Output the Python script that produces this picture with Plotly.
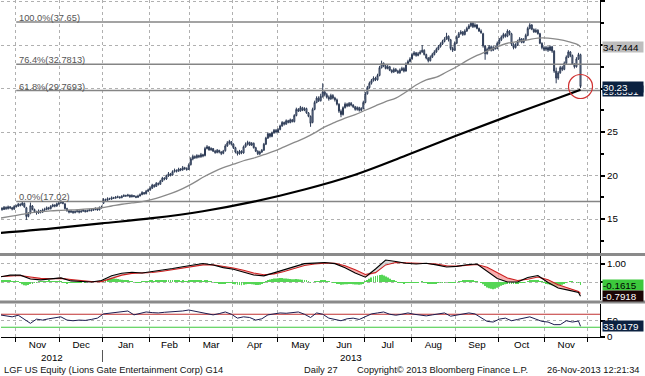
import numpy as np
import pandas as pd
import plotly.graph_objects as go

W, H = 645, 376
FONT = "Liberation Sans, Arial, sans-serif"

# ---------------- data ----------------
start_date = "2012-10-22"

open_px = [
 16.30, 16.25, 16.10, 16.35, 16.20, 16.40, 16.30, 16.15,
 16.45, 16.50, 16.70, 16.60, 16.80, 16.30, 15.30, 15.70, 16.50, 16.10, 15.85, 15.70, 15.95, 15.80, 16.05, 16.10, 16.30, 16.20, 16.45, 16.60, 16.50, 16.75,
 16.85, 16.95, 16.75, 16.20, 15.95, 15.80, 15.90, 15.75, 15.85, 15.95, 15.80, 15.90, 16.00, 15.85, 15.95, 16.05, 16.00, 16.10, 16.20, 16.05, 16.30,
 16.80, 17.25, 17.15, 17.35, 17.30, 17.45, 17.40, 17.50, 17.55, 17.45, 17.60, 17.70, 17.65, 17.75, 17.55, 17.70, 17.60, 17.50, 17.65, 17.80, 18.05, 17.90, 18.20,
 18.35, 18.55, 18.90, 18.75, 19.10, 19.00, 19.35, 19.70, 19.60, 19.95, 20.20, 20.05, 20.45, 20.60, 20.50, 20.75, 20.65, 20.90, 20.80, 20.70,
 21.25, 21.90, 22.20, 22.05, 22.30, 22.15, 22.40, 22.30, 23.10, 23.30, 22.95, 23.10, 22.80, 22.65, 22.90, 22.70, 22.55, 22.85, 23.40, 23.75, 23.90,
 23.60, 23.20, 22.70, 22.50, 22.80, 22.60, 23.30, 23.60, 23.80, 23.50, 23.70, 23.20, 22.80, 22.50, 22.70, 22.90, 23.60, 24.30, 24.80, 24.50, 24.90, 25.20,
 25.00, 25.30, 25.70, 26.10, 25.90, 26.30, 26.10, 26.40, 26.20, 26.90, 27.60, 27.40, 27.80, 27.50, 27.70, 27.20, 26.80, 26.10, 27.60, 28.40, 28.90, 28.60, 29.10,
 29.60, 29.30, 29.00, 28.80, 29.20, 28.90, 28.70, 28.20, 27.40, 27.00, 27.80, 28.20, 28.00, 28.30, 28.10, 27.90, 27.60, 27.80, 27.50, 27.70,
 28.40, 29.40, 30.10, 30.60, 30.90, 31.20, 31.00, 31.50, 32.40, 32.90, 32.60, 32.30, 32.50, 32.10, 31.90, 32.20, 32.00, 31.80, 32.10, 32.30, 32.00, 32.80, 33.10,
 33.40, 33.90, 34.10, 33.80, 34.00, 34.20, 34.40, 33.90, 33.50, 33.20, 33.60, 33.90, 34.20, 34.50, 34.80, 35.10, 35.40, 35.70, 36.00, 35.60, 34.60, 34.40,
 35.20, 35.90, 36.30, 36.50, 36.20, 36.60, 36.90, 37.20, 37.50, 37.10, 37.30, 36.90, 36.60, 36.30, 34.90, 34.00, 34.50, 34.80, 34.40, 34.70, 34.60,
 35.20, 35.60, 35.90, 36.20, 36.00, 36.60, 36.30, 35.10, 34.70, 35.00, 35.40, 35.70, 35.30, 35.60, 36.10, 36.90, 37.30, 36.80, 36.50, 36.70, 36.30, 35.20, 34.70,
 34.50, 34.70, 34.40, 34.80, 34.30, 32.00, 31.20, 31.80, 32.40, 32.20, 32.90, 33.60, 34.20, 33.80, 32.80, 32.50, 33.40, 33.90,
]
high_px = [
 16.45, 16.35, 16.50, 16.45, 16.55, 16.50, 16.40, 16.60,
 16.65, 16.85, 16.80, 17.00, 16.90, 16.40, 15.80, 16.90, 16.60, 16.20, 15.95, 16.10, 16.05, 16.20, 16.30, 16.45, 16.40, 16.60, 16.75, 16.70, 16.90, 17.05,
 17.20, 17.05, 16.80, 16.30, 16.05, 16.05, 15.95, 16.00, 16.10, 16.00, 16.05, 16.15, 16.05, 16.10, 16.20, 16.15, 16.25, 16.35, 16.25, 16.45, 16.55,
 17.40, 17.35, 17.50, 17.45, 17.60, 17.55, 17.65, 17.70, 17.60, 17.75, 17.85, 17.80, 17.90, 17.80, 17.85, 17.75, 17.70, 17.80, 17.95, 18.20, 18.10, 18.35, 18.50,
 18.75, 19.05, 19.00, 19.25, 19.20, 19.50, 19.85, 19.80, 20.10, 20.40, 20.30, 20.60, 20.80, 20.70, 20.90, 20.85, 21.10, 21.00, 20.95, 21.40,
 22.10, 22.40, 22.30, 22.45, 22.40, 22.60, 22.50, 23.30, 23.50, 23.35, 23.25, 23.15, 22.95, 23.05, 22.95, 22.80, 22.95, 23.60, 23.95, 24.10, 23.95,
 23.70, 23.30, 22.85, 22.95, 22.90, 23.45, 23.80, 24.00, 23.90, 23.85, 23.80, 23.30, 22.90, 22.85, 23.05, 23.75, 24.45, 24.95, 24.90, 25.05, 25.35, 25.35,
 25.45, 25.85, 26.25, 26.20, 26.45, 26.40, 26.55, 26.50, 27.05, 27.80, 27.75, 28.00, 27.90, 27.85, 27.80, 27.30, 26.90, 27.80, 28.60, 29.10, 29.10, 29.40, 30.60,
 29.80, 29.50, 29.20, 29.40, 29.35, 29.05, 28.85, 28.30, 27.60, 27.95, 28.40, 28.35, 28.45, 28.45, 28.20, 28.00, 27.95, 27.90, 27.85, 28.60,
 29.60, 30.30, 30.80, 31.10, 31.40, 31.35, 31.70, 32.60, 33.20, 33.00, 32.75, 32.70, 32.60, 32.20, 32.40, 32.35, 32.15, 32.30, 32.50, 32.45, 33.00, 33.30, 33.60,
 34.10, 34.30, 34.20, 34.20, 34.40, 35.00, 34.50, 34.00, 33.60, 33.80, 34.10, 34.40, 34.70, 35.00, 35.30, 35.60, 35.90, 36.40, 36.10, 35.70, 34.80, 35.40,
 36.10, 36.50, 36.70, 36.60, 36.80, 37.10, 37.40, 37.65, 37.60, 37.50, 37.40, 37.00, 36.80, 36.40, 35.00, 34.70, 35.00, 34.95, 34.90, 34.90, 35.40,
 35.80, 36.10, 36.40, 36.35, 36.80, 36.70, 36.40, 35.20, 35.20, 35.60, 35.90, 35.80, 35.80, 36.30, 37.10, 37.50, 37.40, 36.90, 36.90, 36.80, 36.40, 35.30, 34.90,
 34.90, 34.85, 34.95, 34.90, 34.40, 32.40, 32.00, 32.60, 32.60, 33.10, 33.80, 34.40, 34.30, 33.90, 32.90, 33.60, 34.10, 34.00,
]
low_px = [
 16.10, 15.95, 16.05, 16.05, 16.10, 16.15, 16.00, 16.05,
 16.30, 16.40, 16.45, 16.55, 16.30, 14.90, 15.20, 15.55, 16.00, 15.70, 15.50, 15.60, 15.65, 15.70, 15.90, 16.00, 16.05, 16.10, 16.35, 16.35, 16.40, 16.60,
 16.75, 16.70, 16.10, 15.85, 15.65, 15.70, 15.60, 15.65, 15.75, 15.65, 15.75, 15.85, 15.75, 15.80, 15.90, 15.85, 15.95, 16.00, 15.95, 16.00, 16.20,
 16.75, 17.05, 17.10, 17.20, 17.20, 17.30, 17.35, 17.40, 17.35, 17.40, 17.55, 17.55, 17.60, 17.45, 17.50, 17.50, 17.40, 17.45, 17.60, 17.75, 17.80, 17.85, 18.10,
 18.25, 18.45, 18.60, 18.70, 18.85, 18.95, 19.25, 19.45, 19.50, 19.85, 19.90, 20.00, 20.35, 20.35, 20.45, 20.50, 20.55, 20.65, 20.55, 20.65,
 21.15, 21.75, 21.90, 21.95, 22.00, 22.05, 22.10, 22.20, 23.00, 22.85, 22.85, 22.70, 22.50, 22.55, 22.55, 22.35, 22.45, 22.75, 23.30, 23.55, 23.45,
 23.05, 22.55, 22.30, 22.40, 22.45, 22.50, 23.20, 23.45, 23.40, 23.40, 23.10, 22.70, 22.35, 22.35, 22.60, 22.85, 23.50, 24.20, 24.35, 24.40, 24.80, 24.85,
 24.90, 25.20, 25.60, 25.75, 25.85, 26.00, 26.00, 26.10, 26.10, 26.80, 27.30, 27.35, 27.40, 27.40, 27.10, 26.70, 25.60, 26.00, 27.50, 28.30, 28.45, 28.50, 28.95,
 29.10, 28.85, 28.60, 28.70, 28.75, 28.50, 28.05, 27.20, 26.70, 26.90, 27.70, 27.85, 27.90, 27.95, 27.75, 27.45, 27.45, 27.35, 27.35, 27.60,
 28.30, 29.30, 30.00, 30.45, 30.80, 30.85, 30.90, 31.40, 32.30, 32.45, 32.20, 32.20, 32.00, 31.75, 31.80, 31.90, 31.70, 31.70, 32.00, 31.85, 31.95, 32.70, 33.00,
 33.30, 33.75, 33.65, 33.70, 33.90, 34.10, 33.80, 33.35, 33.00, 33.10, 33.50, 33.80, 34.10, 34.40, 34.70, 35.00, 35.30, 35.60, 35.40, 34.40, 34.20, 34.35,
 35.10, 35.80, 36.20, 36.05, 36.10, 36.50, 36.80, 37.05, 36.95, 37.00, 36.80, 36.50, 36.30, 34.70, 33.30, 33.90, 34.40, 34.25, 34.30, 34.45, 34.50,
 35.05, 35.45, 35.75, 35.85, 35.90, 36.10, 34.90, 34.50, 34.60, 34.90, 35.30, 35.20, 35.20, 35.50, 36.00, 36.80, 36.70, 36.40, 36.40, 36.20, 35.10, 34.50, 34.30,
 34.30, 34.20, 34.30, 34.10, 31.80, 30.60, 31.00, 31.70, 32.00, 32.10, 32.80, 33.50, 33.60, 32.70, 32.30, 32.40, 33.30, 30.05,
]
close_px = [
 16.25, 16.10, 16.35, 16.20, 16.40, 16.30, 16.15, 16.45,
 16.50, 16.70, 16.60, 16.85, 16.40, 15.30, 15.60, 16.55, 16.10, 15.85, 15.70, 15.95, 15.80, 16.05, 16.10, 16.30, 16.20, 16.45, 16.60, 16.50, 16.75, 16.85,
 16.95, 16.80, 16.20, 15.95, 15.80, 15.90, 15.75, 15.85, 15.95, 15.80, 15.90, 16.00, 15.85, 15.95, 16.05, 16.00, 16.10, 16.20, 16.05, 16.30, 16.40,
 17.25, 17.15, 17.35, 17.30, 17.45, 17.40, 17.50, 17.55, 17.45, 17.60, 17.70, 17.65, 17.75, 17.55, 17.70, 17.60, 17.50, 17.65, 17.80, 18.05, 17.90, 18.20, 18.35,
 18.55, 18.90, 18.75, 19.10, 19.00, 19.35, 19.70, 19.60, 19.95, 20.20, 20.05, 20.45, 20.60, 20.50, 20.75, 20.65, 20.90, 20.80, 20.70, 21.20,
 21.90, 22.20, 22.05, 22.30, 22.15, 22.40, 22.25, 23.10, 23.30, 22.95, 23.10, 22.80, 22.65, 22.90, 22.70, 22.55, 22.80, 23.40, 23.75, 23.90, 23.60,
 23.20, 22.70, 22.50, 22.80, 22.60, 23.30, 23.60, 23.80, 23.50, 23.70, 23.20, 22.80, 22.50, 22.70, 22.90, 23.60, 24.30, 24.80, 24.50, 24.90, 25.20, 25.00,
 25.30, 25.70, 26.10, 25.90, 26.30, 26.10, 26.40, 26.20, 26.90, 27.60, 27.40, 27.80, 27.50, 27.70, 27.20, 26.80, 26.00, 27.60, 28.40, 28.90, 28.60, 29.10, 29.60,
 29.30, 29.00, 28.80, 29.20, 28.90, 28.70, 28.20, 27.40, 27.00, 27.80, 28.20, 28.00, 28.30, 28.10, 27.90, 27.60, 27.80, 27.50, 27.70, 28.40,
 29.40, 30.10, 30.60, 30.90, 31.20, 31.00, 31.50, 32.40, 32.90, 32.60, 32.30, 32.50, 32.10, 31.90, 32.20, 32.00, 31.80, 32.10, 32.30, 32.00, 32.80, 33.10, 33.40,
 33.90, 34.10, 33.80, 34.00, 34.20, 34.40, 33.90, 33.50, 33.20, 33.60, 33.90, 34.20, 34.50, 34.80, 35.10, 35.40, 35.70, 36.00, 35.60, 34.60, 34.40, 35.20,
 35.90, 36.30, 36.50, 36.20, 36.60, 36.90, 37.20, 37.50, 37.10, 37.30, 36.90, 36.60, 36.40, 34.90, 34.00, 34.50, 34.80, 34.40, 34.70, 34.60, 35.20,
 35.60, 35.90, 36.20, 36.00, 36.60, 36.30, 35.10, 34.70, 35.00, 35.40, 35.70, 35.30, 35.60, 36.10, 36.90, 37.30, 36.80, 36.50, 36.70, 36.30, 35.20, 34.70, 34.50,
 34.70, 34.40, 34.80, 34.30, 32.00, 31.20, 31.80, 32.40, 32.20, 32.90, 33.60, 34.20, 33.80, 32.80, 32.50, 33.40, 33.90, 30.23,
]

# 50-day moving average, read every 5 trading days (last = final value)
ma50_step = 5
ma50 = [15.1, 15.3, 15.5, 15.7, 15.85, 15.95, 16.0, 16.05, 16.1, 16.2,
        16.3, 16.5, 16.7, 16.85, 17.0, 17.25, 17.6, 18.0, 18.5, 19.1,
        19.8, 20.4, 20.9, 21.3, 21.7, 22.0, 22.4, 22.8, 23.3, 23.8,
        24.3, 24.9, 25.6, 26.1, 26.6, 27.0, 27.5, 28.0, 28.5, 28.9,
        29.6, 30.4, 31.0, 31.3, 31.9, 32.5, 33.2, 33.8, 34.3, 34.8,
        35.2, 35.4, 35.6, 35.8, 35.8, 35.65, 35.4, 35.0, 34.7444]
# 200-day moving average, read every 25 trading days (last = final value)
ma200_step = 25
ma200 = [13.4, 13.9, 14.5, 15.1, 15.9, 17.0, 18.4, 20.1, 22.3, 24.6, 26.8, 28.9, 29.8551]

# Fibonacci retracement levels
fib_start = "2012-11-01"
fib_levels = [37.65, 32.7813, 29.7693, 17.02]
fib_labels = ["100.0%(37.65)", "76.4%(32.7813)", "61.8%(29.7693)", "0.0%(17.02)"]

# MACD / signal, read every 5 trading days; histogram daily
macd_step = 5
macd = [0.28, 0.38, 0.38, 0.17, 0.12, 0.19, 0.23, 0.06, 0.01, 0.0,
        0.08, 0.35, 0.49, 0.54, 0.5, 0.57, 0.66, 0.75, 0.85, 0.94,
        1.03, 0.94, 0.8, 0.71, 0.56, 0.39, 0.34, 0.51, 0.69, 0.88,
        1.02, 1.05, 1.08, 1.02, 0.79, 0.5, 0.27, 0.72, 1.22, 1.14,
        1.04, 1.0, 1.04, 0.95, 0.83, 0.87, 0.96, 1.0, 0.6, 0.2,
        0.0, 0.0, 0.25, 0.36, -0.03, -0.33, -0.45, -0.58, -0.7918]
signal = [0.30, 0.33, 0.36, 0.28, 0.20, 0.18, 0.20, 0.14, 0.07, 0.02,
          0.02, 0.20, 0.38, 0.48, 0.50, 0.53, 0.60, 0.68, 0.78, 0.87,
          0.95, 0.96, 0.88, 0.78, 0.65, 0.50, 0.40, 0.45, 0.58, 0.76,
          0.92, 1.00, 1.05, 1.04, 0.90, 0.68, 0.42, 0.52, 0.95, 1.08,
          1.07, 1.03, 1.03, 0.99, 0.90, 0.88, 0.92, 0.97, 0.82, 0.50,
          0.22, 0.08, 0.15, 0.28, 0.12, -0.15, -0.35, -0.52, -0.6303]
macd_hist = [
 0.06, 0.08, 0.07, 0.09, 0.08, 0.06, 0.05, 0.04,
 0.03, 0.02, -0.05, -0.12, -0.18, -0.20, -0.16, -0.10, -0.06, -0.03, -0.02, 0.01, 0.03, 0.04, 0.05, 0.04, 0.06, 0.05, 0.04, 0.03, 0.05, 0.04,
 0.03, -0.02, -0.05, -0.06, -0.05, -0.04, -0.03, -0.02, -0.02, -0.01, -0.01, 0.00, -0.01, 0.00, 0.01, 0.00, 0.01, 0.01, 0.02, 0.04, 0.08,
 0.13, 0.16, 0.18, 0.19, 0.20, 0.19, 0.18, 0.16, 0.14, 0.12, 0.10, 0.08, 0.06, 0.03, 0.01, 0.00, -0.02, -0.02, -0.01, 0.01, 0.02, 0.04, 0.05,
 0.06, 0.06, 0.05, 0.06, 0.07, 0.07, 0.06, 0.06, 0.07, 0.07, 0.06, 0.07, 0.07, 0.06, 0.06, 0.05, 0.06, 0.05, 0.04, 0.06,
 0.08, 0.08, 0.07, 0.07, 0.06, 0.06, 0.05, 0.07, 0.08, 0.05, 0.03, 0.00, -0.03, -0.04, -0.06, -0.08, -0.08, -0.06, -0.04, -0.03, -0.05,
 -0.08, -0.12, -0.15, -0.17, -0.18, -0.15, -0.12, -0.10, -0.11, -0.12, -0.14, -0.16, -0.17, -0.15, -0.10, -0.03, 0.05, 0.11, 0.14, 0.17, 0.20, 0.20,
 0.21, 0.22, 0.22, 0.20, 0.19, 0.18, 0.17, 0.15, 0.15, 0.17, 0.15, 0.14, 0.12, 0.10, 0.07, 0.03, -0.02, 0.00, 0.03, 0.05, 0.05, 0.06, 0.08,
 0.06, 0.04, 0.01, 0.00, -0.02, -0.04, -0.07, -0.11, -0.15, -0.14, -0.12, -0.12, -0.11, -0.11, -0.12, -0.14, -0.14, -0.15, -0.14, -0.08,
 0.02, 0.10, 0.18, 0.25, 0.30, 0.33, 0.36, 0.39, 0.40, 0.36, 0.30, 0.25, 0.18, 0.11, 0.06, 0.02, -0.02, -0.04, -0.05, -0.06, -0.04, -0.03, -0.02,
 -0.02, -0.01, -0.02, -0.01, 0.00, 0.01, -0.01, -0.04, -0.07, -0.08, -0.08, -0.07, -0.06, -0.05, -0.04, -0.03, -0.02, 0.00, -0.01, -0.04, -0.05, -0.03,
 0.00, 0.03, 0.05, 0.06, 0.07, 0.08, 0.08, 0.08, 0.06, 0.05, 0.03, 0.00, -0.04, -0.12, -0.22, -0.30, -0.35, -0.38, -0.40, -0.37, -0.32,
 -0.26, -0.21, -0.16, -0.13, -0.10, -0.08, -0.09, -0.10, -0.09, -0.07, -0.05, -0.04, -0.02, 0.00, 0.04, 0.08, 0.10, 0.10, 0.09, 0.08, 0.05, 0.01, -0.03,
 -0.08, -0.12, -0.15, -0.18, -0.22, -0.25, -0.24, -0.20, -0.15, -0.10, -0.05, 0.00, 0.03, 0.02, 0.00, -0.02, -0.04, -0.1615,
]

# RSI, read every 3 trading days (last = final value)
rsi_step = 3
rsi = [68, 64, 62, 67, 55, 42, 55, 52, 56, 60,
       62, 52, 50, 52, 51, 54, 58, 71, 73, 74,
       76, 80, 68, 72, 77, 75, 74, 76, 77, 78,
       80, 83, 79, 76, 72, 68, 72, 77, 70, 58,
       62, 60, 52, 56, 68, 72, 74, 73, 76, 77,
       70, 60, 74, 70, 58, 55, 50, 56, 58, 54,
       62, 71, 74, 77, 70, 67, 70, 74, 70, 68,
       65, 68, 70, 74, 64, 68, 72, 74, 71, 60,
       48, 46, 55, 58, 50, 54, 58, 62, 55, 48,
       46, 38, 38, 50, 46, 49, 33.0179]
rsi_levels = [70, 30]

month_abbr = ["Jan", "Feb", "Mar", "Apr", "May", "Jun", "Jul", "Aug", "Sep", "Oct", "Nov", "Dec"]
footer_left = "LGF US Equity (Lions Gate Entertainment Corp) G14"
footer_mid = "Daily 27"
footer_copy = "Copyright\u00a9 2013 Bloomberg Finance L.P."
footer_time = "26-Nov-2013 12:21:34"

# ---------------- derived positions ----------------
n = min(len(open_px), len(high_px), len(low_px), len(close_px))
days = np.arange(n)
dates = pd.bdate_range(start_date, periods=n)
hist_n = min(len(macd_hist), n)


def sample_pos(step, count):
    return [min(step * i, n - 1) for i in range(count - 1)] + [n - 1]


ma50_x = sample_pos(ma50_step, len(ma50))
ma200_x = sample_pos(ma200_step, len(ma200))
macd_x = sample_pos(macd_step, len(macd))
rsi_x = sample_pos(rsi_step, len(rsi))

x_lo, x_hi = 0.5, n - 1 + 9.6

cal = pd.bdate_range(start_date, "2014-01-31")
per = cal.to_period("M")
bnd = [i - 0.5 for i in range(1, len(cal)) if per[i] != per[i - 1]]
bnd_in = [b for b in bnd if x_lo < b < x_hi]
mids, mlab = [], []
for b0, b1 in zip(bnd[:-1], bnd[1:]):
    if b0 >= x_lo and b1 <= x_hi:
        mids.append((b0 + b1) / 2)
        mlab.append(month_abbr[cal[int(b0 + 0.5)].month - 1])
jan_b = [b for b in bnd_in if cal[int(b + 0.5)].month == 1][0]
fib_x0 = int(np.searchsorted(dates, pd.Timestamp(fib_start)))


def px(x):
    return x / W


def py(y):
    return 1 - y / H


xd = [px(1), px(600)]
dom_main = [py(253), 1.0]
dom_macd = [py(300), py(256)]
dom_rsi = [py(337), py(304)]

GRID = dict(gridcolor="#b0b0b0", griddash="dot", gridwidth=1)

fig = go.Figure()

# ---- MACD panel ----
fig.add_trace(go.Bar(x=days[:hist_n], y=macd_hist[:hist_n], xaxis="x2", yaxis="y2",
                     marker=dict(color="#55d655", line=dict(width=0)), width=0.45))
lo = np.minimum(macd, signal)
hi = np.maximum(macd, signal)
fig.add_trace(go.Scatter(x=macd_x, y=signal, xaxis="x2", yaxis="y2", mode="lines",
                         line=dict(width=0), hoverinfo="skip"))
fig.add_trace(go.Scatter(x=macd_x, y=lo, xaxis="x2", yaxis="y2", mode="lines",
                         line=dict(width=0), fill="tonexty", fillcolor="rgba(245,150,150,0.75)", hoverinfo="skip"))
fig.add_trace(go.Scatter(x=macd_x, y=signal, xaxis="x2", yaxis="y2", mode="lines",
                         line=dict(width=0), hoverinfo="skip"))
fig.add_trace(go.Scatter(x=macd_x, y=hi, xaxis="x2", yaxis="y2", mode="lines",
                         line=dict(width=0), fill="tonexty", fillcolor="rgba(190,190,190,0.6)", hoverinfo="skip"))
fig.add_trace(go.Scatter(x=macd_x, y=signal, xaxis="x2", yaxis="y2", mode="lines",
                         line=dict(color="#cc2020", width=1.1)))
fig.add_trace(go.Scatter(x=macd_x, y=macd, xaxis="x2", yaxis="y2", mode="lines",
                         line=dict(color="#000000", width=1.1)))

# ---- RSI panel ----
for lvl, col in zip(rsi_levels, ["#c03030", "#3cc83c"]):
    fig.add_trace(go.Scatter(x=[x_lo, x_hi], y=[lvl, lvl], xaxis="x3", yaxis="y3", mode="lines",
                             line=dict(color=col, width=1.2)))
fig.add_trace(go.Scatter(x=rsi_x, y=rsi, xaxis="x3", yaxis="y3", mode="lines",
                         line=dict(color="#1c1c50", width=1)))

# ---- main panel ----
for lvl in fib_levels:
    fig.add_trace(go.Scatter(x=[fib_x0, x_hi], y=[lvl, lvl], xaxis="x", yaxis="y", mode="lines",
                             line=dict(color="#858585", width=1.6)))
fig.add_trace(go.Scatter(x=ma200_x, y=ma200, mode="lines", line=dict(color="#000000", width=2.2, shape="spline")))
fig.add_trace(go.Scatter(x=ma50_x, y=ma50, mode="lines", line=dict(color="#8a8a8a", width=1.3, shape="spline")))
fig.add_trace(go.Candlestick(x=days, open=open_px[:n], high=high_px[:n], low=low_px[:n], close=close_px[:n],
                             whiskerwidth=0,
                             increasing=dict(line=dict(color="#2c3a55", width=1), fillcolor="#a3b0c4"),
                             decreasing=dict(line=dict(color="#2c3a55", width=1), fillcolor="#a3b0c4")))

tickfont = dict(family=FONT, size=9.8, color="#000000")

fig.update_layout(
    width=W, height=H, margin=dict(l=0, r=0, t=0, b=0, autoexpand=False),
    paper_bgcolor="white", plot_bgcolor="white", showlegend=False,
    font=dict(family=FONT, size=9.8, color="#000"),
    xaxis=dict(domain=xd, range=[x_lo, x_hi], anchor="y", showticklabels=False, ticks="",
               showgrid=False, zeroline=False, rangeslider=dict(visible=False),
               minor=dict(tickmode="array", tickvals=bnd_in, showgrid=True, ticks="", **GRID)),
    xaxis2=dict(domain=xd, range=[x_lo, x_hi], anchor="y2", matches="x", showticklabels=False, ticks="",
                showgrid=False, zeroline=False,
                minor=dict(tickmode="array", tickvals=bnd_in, showgrid=True, ticks="", **GRID)),
    xaxis3=dict(domain=xd, range=[x_lo, x_hi], anchor="y3", matches="x", tickmode="array",
                tickvals=mids, ticktext=mlab, ticks="", showgrid=False, zeroline=False,
                showline=True, linecolor="#000", linewidth=1, tickfont=tickfont, ticklabelstandoff=-2,
                minor=dict(tickmode="array", tickvals=bnd_in, showgrid=True, ticks="outside",
                           ticklen=4, tickcolor="#000", **GRID)),
    yaxis=dict(domain=dom_main, range=[11.1, 40.17], side="right", anchor="x",
               tickmode="array", tickvals=[15, 20, 25, 30, 35, 40], ticktext=["15", "20", "25", "30", "35", ""],
               ticks="outside", ticklen=4, tickwidth=2, tickcolor="#000", tickfont=tickfont,
               showgrid=True, zeroline=False, showline=True, linecolor="#000", linewidth=1,
               minor=dict(dtick=2.5, tick0=0, ticks="outside", ticklen=3, tickcolor="#000", showgrid=False),
               **GRID),
    yaxis2=dict(domain=dom_macd, range=[-1.0, 1.444], side="right", anchor="x2",
                tickmode="array", tickvals=[0, 1], ticktext=["", "1.00"],
                ticks="outside", ticklen=4, tickwidth=2, tickcolor="#000", tickfont=tickfont,
                showgrid=True, zeroline=False, showline=True, linecolor="#000", linewidth=1, **GRID),
    yaxis3=dict(domain=dom_rsi, range=[0, 101.5], side="right", anchor="x3",
                tickmode="array", tickvals=[0, 50], ticktext=["0", "50"],
                ticks="outside", ticklen=4, tickwidth=2, tickcolor="#000", tickfont=tickfont,
                showgrid=True, zeroline=False, showline=True, linecolor="#000", linewidth=1, **GRID),
)

ann = []
for lvl, lab in zip(fib_levels, fib_labels):
    ann.append(dict(x=fib_x0, y=lvl, xref="x", yref="y", text=lab, showarrow=False,
                    xanchor="left", yanchor="bottom", xshift=1, yshift=-3,
                    font=dict(family=FONT, size=9.3, color="#555555")))


def vbox(val, yref, text, bg, fg, yshift=0):
    return dict(x=px(602), y=val, xref="paper", yref=yref, text=text, showarrow=False,
                xanchor="left", yanchor="middle", yshift=yshift, bgcolor=bg, borderpad=0,
                width=40, height=10, align="left", font=dict(family=FONT, size=9.8, color=fg))


ann.append(vbox(ma50[-1], "y", "%.4f" % ma50[-1], "#bdbdbd", "#000000"))
ann.append(vbox(ma200[-1], "y", "%.4f" % ma200[-1], "#0b2140", "#ffffff", yshift=-1))
ann.append(vbox(close_px[n - 1], "y", "%.2f" % close_px[n - 1], "#0b2140", "#ffffff"))
ann.append(vbox(macd_hist[hist_n - 1], "y2", "%.4f" % macd_hist[hist_n - 1], "#3cc83c", "#000000"))
ann.append(vbox(macd[-1], "y2", "%.4f" % macd[-1], "#1a0505", "#ffffff"))
ann.append(vbox(rsi[-1], "y3", "%.4f" % rsi[-1], "#0b2140", "#ffffff"))

# year labels
ann.append(dict(x=(x_lo + jan_b) / 2, y=py(357), xref="x", yref="paper", text=str(cal[0].year),
                showarrow=False, xanchor="center", yanchor="middle", font=dict(family=FONT, size=9.8)))
ann.append(dict(x=(jan_b + x_hi) / 2, y=py(357), xref="x", yref="paper", text=str(cal[0].year + 1),
                showarrow=False, xanchor="center", yanchor="middle", font=dict(family=FONT, size=9.8)))
# footer
for x0, t in [(2, footer_left), (302, footer_mid), (355, footer_copy), (545, footer_time)]:
    ann.append(dict(x=px(x0), y=py(370), xref="paper", yref="paper", text=t, showarrow=False,
                    xanchor="left", yanchor="middle", font=dict(family=FONT, size=9.3, color="#111")))
fig.update_layout(annotations=ann)

shapes = [
    dict(type="line", xref="paper", yref="paper", x0=0, x1=1, y0=py(254.5), y1=py(254.5),
         line=dict(color="#8a8a8a", width=3)),
    dict(type="line", xref="paper", yref="paper", x0=0, x1=1, y0=py(302), y1=py(302),
         line=dict(color="#8a8a8a", width=3)),
    dict(type="line", xref="x", yref="paper", x0=jan_b, x1=jan_b, y0=py(350), y1=py(362),
         line=dict(color="#555", width=1)),
    dict(type="circle", xref="x", yref="y", xsizemode="pixel", ysizemode="pixel",
         xanchor=int(days[-1]), yanchor=close_px[n - 1], x0=-12, x1=12, y0=-12, y1=12,
         line=dict(color="#d03030", width=1.2)),
]
fig.update_layout(shapes=shapes)

page_css = ("var d=document.documentElement.style;d.margin='0';d.padding='0';d.overflow='hidden';"
            "d.height='376px';var b=document.body.style;b.margin='0';b.padding='0';"
            "b.overflow='hidden';b.height='376px';")
fig.write_html("out.html", config={"displayModeBar": False}, post_script=page_css)
